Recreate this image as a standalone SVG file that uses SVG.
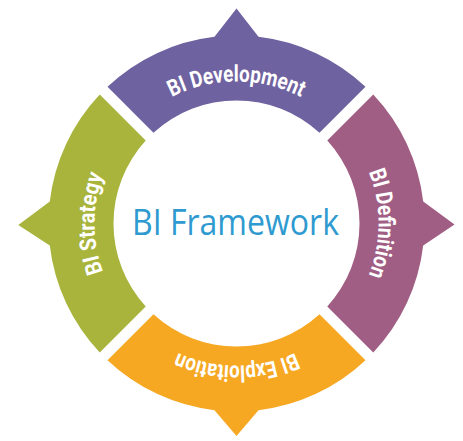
<svg xmlns="http://www.w3.org/2000/svg" width="463" height="441" viewBox="0 0 463 441">
<style>
.lbl{font-family:Roboto,"Liberation Sans",sans-serif;font-weight:700;font-size:23px;fill:#ffffff}
.title{font-family:"Open Sans","Liberation Sans",sans-serif;font-size:36px;fill:#2E9AD0}
</style>
<defs>
<path id="tp-top" d="M 136.09,123.09 A 142 142 0 0 1 336.91,123.09"/>
<path id="tp-right" d="M 336.91,123.09 A 142 142 0 0 1 336.91,323.91"/>
<path id="tp-bottom" d="M 336.91,323.91 A 142 142 0 0 1 136.09,323.91"/>
<path id="tp-left" d="M 136.09,323.91 A 142 142 0 0 1 136.09,123.09"/>
</defs>
<rect width="463" height="441" fill="#ffffff"/>
<g id="connectors"></g>
<g id="bi-development">
<path fill="#6F62A0" d="M 107.51,86.73 A 188 188 0 0 1 214.5,36.79 L 236.5,8.5 L 258.5,36.79 A 188 188 0 0 1 365.49,86.73 L 319.5,132.72 A 123 123 0 0 0 153.5,132.72 Z"/>
<text class="lbl"><textPath href="#tp-top" startOffset="50%" text-anchor="middle" textLength="134" lengthAdjust="spacingAndGlyphs">BI Development</textPath></text>
</g>
<g id="bi-definition">
<path fill="#A15E84" d="M 373.27,94.51 A 188 188 0 0 1 423.21,201.5 L 454.5,224.5 L 423.21,245.5 A 188 188 0 0 1 373.27,352.49 L 327.28,306.5 A 123 123 0 0 0 327.28,140.5 Z"/>
<text class="lbl"><textPath href="#tp-right" startOffset="50%" text-anchor="middle" textLength="106" lengthAdjust="spacingAndGlyphs">BI Definition</textPath></text>
</g>
<g id="bi-exploitation">
<path fill="#F6A823" d="M 365.49,360.27 A 188 188 0 0 1 258.5,410.21 L 236.5,436 L 214.5,410.21 A 188 188 0 0 1 107.51,360.27 L 153.5,314.28 A 123 123 0 0 0 319.5,314.28 Z"/>
<text class="lbl"><textPath href="#tp-bottom" startOffset="50%" text-anchor="middle" textLength="121" lengthAdjust="spacingAndGlyphs">BI Exploitation</textPath></text>
</g>
<g id="bi-strategy">
<path fill="#A8B43C" d="M 99.73,352.49 A 188 188 0 0 1 49.79,245.5 L 18.3,225 L 49.79,201.5 A 188 188 0 0 1 99.73,94.51 L 145.72,140.5 A 123 123 0 0 0 145.72,306.5 Z"/>
<text class="lbl"><textPath href="#tp-left" startOffset="50%" text-anchor="middle" textLength="99" lengthAdjust="spacingAndGlyphs">BI Strategy</textPath></text>
</g>
<g id="bi-framework">
<text class="title" x="235.5" y="235" text-anchor="middle" textLength="207" lengthAdjust="spacingAndGlyphs">BI Framework</text>
</g>
</svg>
